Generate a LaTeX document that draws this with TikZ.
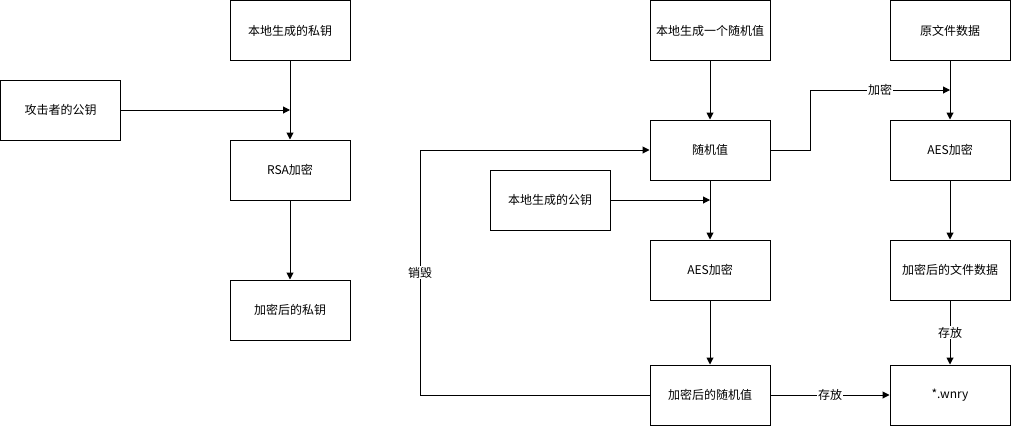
\documentclass[tikz,border=0pt]{standalone}
\usepackage{fontspec}
\setmainfont{Noto Sans CJK SC}
\usetikzlibrary{arrows.meta}
\begin{document}
\begin{tikzpicture}[x=1pt,y=-1pt,
  box/.style={draw,line width=1pt,minimum width=120pt,minimum height=60pt,inner sep=0pt,font=\fontsize{12}{14}\selectfont},
  conn/.style={line width=1pt,-{Triangle[length=7pt,width=7pt]}},
  plain/.style={line width=1pt},
  lbl/.style={fill=white,inner sep=1pt,font=\fontsize{12}{14}\selectfont}]
\useasboundingbox (0,0) rectangle (1011,426);
% left group
\node[box] (kpriv) at (290,30.5) {本地生成的私钥};
\node[box] (atk) at (60.5,110) {攻击者的公钥};
\node[box] (rsa) at (290,170) {RSA加密};
\node[box] (encpriv) at (290,310) {加密后的私钥};
% right group
\node[box] (rnd0) at (710,30.5) {本地生成一个随机值};
\node[box] (orig) at (950,30.5) {原文件数据};
\node[box] (rnd) at (710,150) {随机值};
\node[box] (pub) at (550,200) {本地生成的公钥};
\node[box] (aesM) at (710,270) {AES加密};
\node[box] (aesR) at (950,150) {AES加密};
\node[box] (encF) at (950,270) {加密后的文件数据};
\node[box] (encR) at (710,395) {加密后的随机值};
\node[box] (wnry) at (950,395) {*.wnry};
% junction coordinates
\coordinate (j1) at (290,110);
\coordinate (j2) at (950,90);
\coordinate (j3) at (710,200);
\coordinate (b1) at (810,150);
\coordinate (d1) at (420,395);
% connectors
\draw[conn] (kpriv) -- (rsa);
\draw[conn] (atk) -- (j1);
\draw[conn] (rsa) -- (encpriv);
\draw[conn] (rnd0) -- (rnd);
\draw[conn] (orig) -- (aesR);
\draw[conn] (aesR) -- (encF);
\draw[conn] (rnd.east) -- (b1) |- (j2) node[lbl,pos=0.75] {加密};
\draw[conn] (pub) -- (j3);
\draw[conn] (rnd) -- (aesM);
\draw[conn] (aesM) -- (encR);
\draw[conn] (encF) -- node[lbl] {存放} (wnry);
\draw[conn] (encR) -- node[lbl,pos=0.5] {存放} (wnry);
\draw[conn] (encR.west) -- (d1) |- (rnd.west) node[lbl,pos=0.25] {销毁};
\end{tikzpicture}
\end{document}
